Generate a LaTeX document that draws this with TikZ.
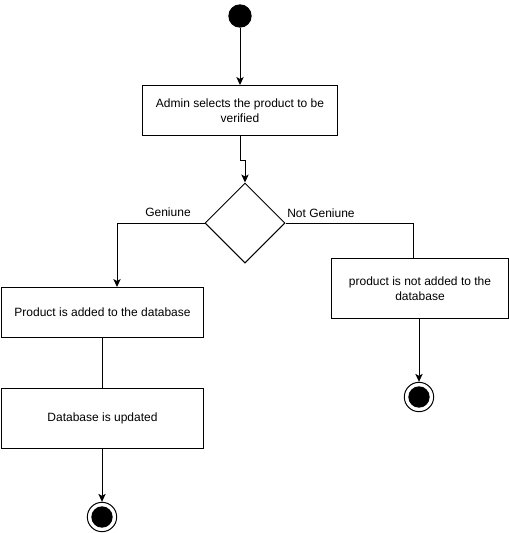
\documentclass[tikz,border=0pt]{standalone}
\usepackage{fontspec}
\setmainfont{Liberation Sans}
\usetikzlibrary{arrows.meta,shapes.geometric}
\begin{document}
\begin{tikzpicture}[x=0.75pt,y=-0.75pt,
  every node/.style={font=\fontsize{9}{11}\selectfont},
  act/.style={draw=black,line width=0.75pt,fill=white,align=center,inner sep=0pt,anchor=north west},
  flow/.style={line width=0.75pt,-{Stealth[length=6pt,width=5.5pt,inset=1.5pt]}},
  plain/.style={line width=0.75pt},
  lbl/.style={inner sep=0pt}
]
\useasboundingbox (0,0) rectangle (509,533);
% start
\node[circle,fill=black,minimum size=17.5pt,inner sep=0pt] (start) at (240,16) {};
% activities
\node[act,minimum width=146.25pt,minimum height=37.5pt] (sel) at (142,85) {Admin selects the product to be\\verified};
\node[diamond,draw=black,line width=0.75pt,fill=white,minimum width=60pt,minimum height=60pt,inner sep=0pt] (dec) at (245,223) {};
\node[act,minimum width=151.5pt,minimum height=37.5pt] (add) at (1,287) {Product is added to the database};
\node[act,minimum width=151.5pt,minimum height=45pt] (upd) at (1,388) {Database is updated};
\node[act,minimum width=132.75pt,minimum height=45pt] (notadd) at (331,258) {product is not added to the\\database};
% ends
\node[circle,draw=black,line width=0.75pt,fill=white,minimum size=22pt,inner sep=0pt] (end1) at (102,517) {};
\node[circle,fill=black,minimum size=16pt,inner sep=0pt] at (end1) {};
\node[circle,draw=black,line width=0.75pt,fill=white,minimum size=22pt,inner sep=0pt] (end2) at (419,397) {};
\node[circle,fill=black,minimum size=16pt,inner sep=0pt] at (end2) {};
% labels
\node[lbl] (g) at (168,212) {Geniune};
\node[lbl] (ng) at (321,213) {Not Geniune};
% connectors
\draw[flow] (start) -- (sel.north -| start);
\draw[flow] (sel.south -| 240,0) -- (240,160) -- (245,160) -- (dec.north);
\draw[flow] (dec.west) -| (add.north -| 117,0);
\draw[plain] (dec.east) -| (notadd.north -| 413,0);
\draw[plain] (add.south -| 102,0) -- (upd.north -| 102,0);
\draw[flow] (upd.south -| end1) -- (end1.north);
\draw[flow] (notadd.south -| end2) -- (end2.north);
\end{tikzpicture}
\end{document}
